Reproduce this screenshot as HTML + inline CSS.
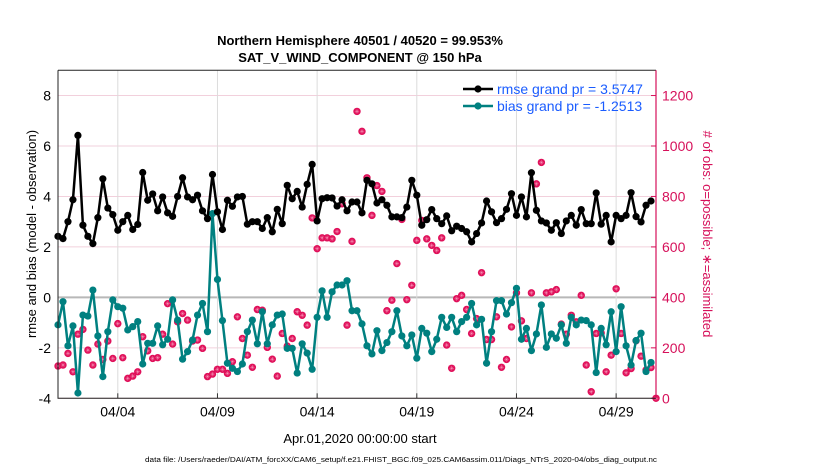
<!DOCTYPE html>
<html><head><meta charset="utf-8"><style>
body{margin:0;background:#fff;width:830px;height:470px;overflow:hidden}
svg{display:block;font-family:"Liberation Sans",sans-serif}
</style></head><body>
<svg id="chart" width="830" height="470" viewBox="0 0 830 470">
<text x="360" y="45" text-anchor="middle" font-size="13" font-weight="bold">Northern Hemisphere 40501 / 40520 = 99.953%</text>
<text x="360" y="62" text-anchor="middle" font-size="13" font-weight="bold">SAT_V_WIND_COMPONENT @ 150 hPa</text>
<g id="grid"></g><g id="obs"></g><g id="series"></g><g id="axes"></g>
<text x="360" y="443" text-anchor="middle" font-size="13">Apr.01,2020 00:00:00 start</text>
<text x="401" y="462" text-anchor="middle" font-size="7" textLength="512" lengthAdjust="spacingAndGlyphs">data file: /Users/raeder/DAI/ATM_forcXX/CAM6_setup/f.e21.FHIST_BGC.f09_025.CAM6assim.011/Diags_NTrS_2020-04/obs_diag_output.nc</text>
<text transform="translate(36,234) rotate(-90)" text-anchor="middle" font-size="13">rmse and bias (model - observation)</text>
<text transform="translate(703,234) rotate(90)" text-anchor="middle" font-size="13" fill="#d6105a"># of obs: o=possible; ∗=assimilated</text>
</svg>
<script>
const rmse=[2.42,2.33,3.0,3.87,6.42,2.86,2.42,2.13,3.16,4.7,3.54,3.28,2.66,3.0,3.25,2.69,2.89,4.95,3.85,4.1,3.43,3.98,3.35,3.21,4.0,4.74,3.98,3.87,4.05,3.43,3.12,4.87,3.39,2.69,3.85,3.61,3.98,4.0,2.9,3.0,3.0,2.73,3.16,2.6,3.49,2.92,4.44,3.91,4.2,3.58,4.48,5.27,3.03,3.91,3.95,3.94,3.62,3.87,3.43,3.78,3.78,3.35,4.64,4.5,3.74,3.87,3.65,3.19,3.19,3.16,3.58,4.64,4.05,2.86,3.08,3.48,3.12,2.92,3.23,2.64,2.82,2.73,2.6,2.2,2.53,2.95,3.82,3.39,2.96,3.12,3.49,4.11,3.25,3.98,3.19,4.94,3.45,3.03,2.95,2.66,2.96,2.53,3.03,3.25,2.86,3.48,2.92,2.92,4.14,2.9,3.25,2.2,3.25,3.12,3.25,4.15,3.2,2.99,3.65,3.82];
const bias=[-1.09,-0.17,-1.92,-1.13,-3.79,-0.7,-0.74,0.29,-1.53,-3.14,-1.36,-0.1,-0.37,-0.43,-1.29,-1.16,-0.96,-2.64,-1.82,-1.82,-1.13,-1.88,-1.66,-0.1,-0.9,-2.45,-2.15,-1.69,-0.7,-0.24,-1.36,3.32,0.71,-0.92,-2.61,-2.81,-2.94,-2.64,-1.36,-0.9,-1.84,-0.57,-1.84,-1.09,-0.7,-0.66,-2.02,-2.02,-3.0,-1.84,-2.21,-2.85,-0.79,0.26,-0.79,0.22,0.49,0.49,0.66,-0.53,-0.53,-1.05,-1.92,-2.24,-1.32,-2.11,-1.79,-1.36,-0.53,-1.53,-1.92,-1.49,-2.41,-1.23,-1.42,-2.15,-1.66,-0.79,-1.19,-0.79,-1.36,-0.96,-0.79,-0.24,-1.09,-0.87,-2.61,-1.36,-0.13,-0.13,-0.66,-0.21,0.36,-1.66,-1.23,-2.11,-1.45,-0.3,-1.98,-1.45,-1.62,-1.09,-1.82,-0.79,-1.09,-0.9,-0.92,-1.09,-2.98,-1.23,-1.88,-0.57,-2.15,-0.37,-1.92,-2.68,-1.71,-1.42,-2.94,-2.58];
const nobs=[128,132,178,105,254,273,191,132,215,154,227,158,296,161,79,88,105,244,188,158,161,254,375,215,303,336,310,227,231,198,86,96,115,115,99,145,323,237,171,123,352,349,202,155,88,257,207,237,343,329,290,715,593,636,636,632,661,771,290,622,1137,1058,874,725,843,820,347,389,534,709,391,448,626,705,632,606,586,636,211,119,395,408,352,257,316,498,233,233,323,123,154,283,418,307,237,418,850,935,418,422,431,294,254,329,303,408,132,26,257,259,105,171,434,257,101,118,228,167,112,122,0];
const dateTicks=[3,8,13,18,23,28];
const dateLabels=["04/04","04/09","04/14","04/19","04/24","04/29"];
const yTicks=[-4,-2,0,2,4,6,8];
const y2Ticks=[0,200,400,600,800,1000,1200];
const X0=58,X1=656,Y0=398.3,Y1=70.3;
const xs=d=>X0+(d/30)*(X1-X0);
const ys=v=>Y0-(v+4)/13*(Y0-Y1);
const y2=n=>Y0-(n/1300)*(Y0-Y1);
const NS="http://www.w3.org/2000/svg";
function mk(tag,attrs,parent){const e=document.createElementNS(NS,tag);for(const k in attrs)e.setAttribute(k,attrs[k]);parent.appendChild(e);return e;}
const grid=document.getElementById('grid'),axes=document.getElementById('axes'),ser=document.getElementById('series'),obsG=document.getElementById('obs');
yTicks.forEach(v=>{
 const l=mk('line',{x1:X0,x2:X1,y1:ys(v),y2:ys(v),stroke:v===0?'#b8b8b8':'#f2d0dc','stroke-width':v===0?2:1},grid);
 
 
 const t=mk('text',{x:X0-7,y:ys(v)+5,'text-anchor':'end','font-size':14},axes);t.textContent=v;
 
 
});
dateTicks.forEach((d,i)=>{
 const l=mk('line',{x1:xs(d),x2:xs(d),y1:Y1,y2:Y0,stroke:'#dcdcdc','stroke-width':1},grid);
 
 
 mk('line',{x1:xs(d),x2:xs(d),y1:Y0,y2:Y0-5,stroke:'#333'},axes);
 const t=mk('text',{x:xs(d),y:Y0+18,'text-anchor':'middle','font-size':14},axes);t.textContent=dateLabels[i];
 
 
});
y2Ticks.forEach(n=>{
 mk('line',{x1:X1,x2:X1-5,y1:y2(n),y2:y2(n),stroke:'#d6105a'},axes);
 const t=mk('text',{x:X1+6,y:y2(n)+5,'font-size':14,fill:'#d6105a'},axes);t.textContent=n;
 
 
});
const frame=mk('path',{d:`M${X0},${Y1}V${Y0}H${X1}`,fill:'none',stroke:'#222','stroke-width':1},axes);


mk('line',{x1:X0,x2:X1,y1:Y1,y2:Y1,stroke:'#222'},axes);
const r2=mk('line',{x1:X1,x2:X1,y1:Y1,y2:Y0,stroke:'#d6105a','stroke-width':1.2},axes);


nobs.forEach((n,i)=>{
 const cx=xs(i*0.25),cy=y2(n);
 const g=mk('g',{},obsG);
 
 
 mk('circle',{cx,cy,r:3.7,fill:'#e0105a'},g);
 mk('path',{d:`M${cx-2.2},${cy}H${cx+2.2}M${cx},${cy-2.2}V${cy+2.2}M${cx-1.5},${cy-1.5}L${cx+1.5},${cy+1.5}M${cx-1.5},${cy+1.5}L${cx+1.5},${cy-1.5}`,stroke:'#f7a8c4','stroke-width':0.4},g);
});
function series(vals,color,name){
 const p=mk('polyline',{points:vals.map((v,i)=>xs(i*0.25)+','+ys(v)).join(' '),fill:'none',stroke:color,'stroke-width':2.5,'stroke-linejoin':'round'},ser);
 
 
 vals.forEach((v,i)=>{
  const c=mk('circle',{cx:xs(i*0.25),cy:ys(v),r:3.6,fill:color},ser);
  
  
 });
}
series(bias,'#008080','bias');
series(rmse,'#000000','rmse');
const lg=mk('g',{},axes);


[['#000','rmse grand pr = 3.5747',89],['#008080','bias grand pr = -1.2513',106]].forEach(([c,txt,y])=>{
 mk('line',{x1:463,x2:493,y1:y,y2:y,stroke:c,'stroke-width':2.5},lg);
 mk('circle',{cx:478,cy:y,r:3.6,fill:c},lg);
 const t=mk('text',{x:497,y:y+5,'font-size':14,fill:'#1a5cff'},lg);t.textContent=txt;
 
 
});
</script>
</body></html>
